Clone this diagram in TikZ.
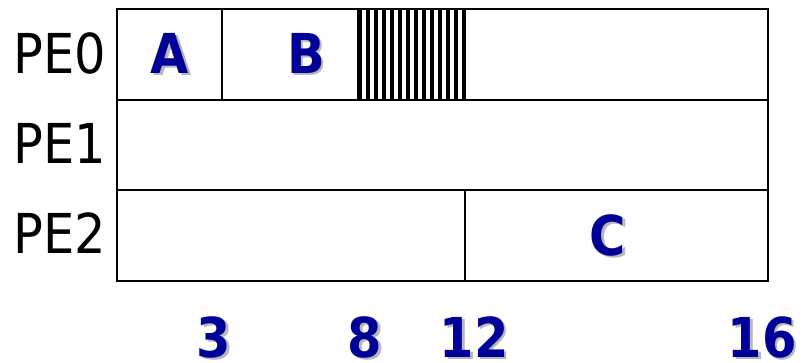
\documentclass[tikz,border=0pt]{standalone}
\usepackage{fontspec}
\setmainfont{DejaVu Sans}
\newfontfamily\condfont{DejaVu Sans Condensed}
\definecolor{navy}{RGB}{0,0,153}
\begin{document}
\begin{tikzpicture}[x=1pt,y=-1pt,
  gridline/.style={draw=black,line width=2pt},
  pelabel/.style={font=\condfont\fontsize{55}{60}\selectfont,anchor=base,inner sep=0pt},
  tagtext/.style={font=\condfont\bfseries\fontsize{55}{60}\selectfont,text=navy,anchor=base,inner sep=0pt},
  tagshadow/.style={font=\condfont\bfseries\fontsize{55}{60}\selectfont,text=black!28,anchor=base,inner sep=0pt}]
\useasboundingbox (0,0) rectangle (807,362);
% hatch
\foreach \i in {0,...,13} \fill[black] (358+\i*8,9) rectangle +(4.3,91);
% grid
\coordinate (tl) at (117,9);
\coordinate (br) at (768,281);
\draw[gridline] (tl) rectangle (br);
\draw[gridline] (117,100) -- (768,100);
\draw[gridline] (117,190) -- (768,190);
\draw[gridline] (222,9) -- (222,100);
\draw[gridline] (358,9) -- (358,100);
\draw[gridline] (465,9) -- (465,100);
\draw[gridline] (465,190) -- (465,281);
% PE labels
\node[pelabel] (pe0) at (60,73) {PE0};
\node[pelabel] (pe1) at (60,163) {PE1};
\node[pelabel] (pe2) at (60,253) {PE2};
% tags with shadow
\foreach \t/\x/\y/\n in {A/170/73/a, B/306/73/b, C/608/255/c, 3/214/357/t3, 8/365/357/t8, 12/474/357/t12, 16/762/357/t16}{
  \node[tagshadow] at (\x+2.5,\y+2.5) {\t};
  \node[tagtext] (\n) at (\x,\y) {\t};
}
\end{tikzpicture}
\end{document}
